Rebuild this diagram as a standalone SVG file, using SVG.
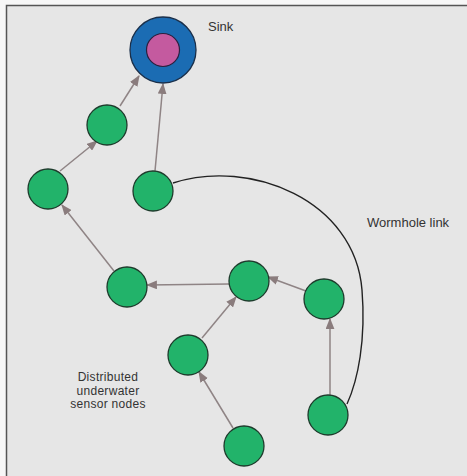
<svg xmlns="http://www.w3.org/2000/svg" width="467" height="476" viewBox="0 0 467 476">
<defs>
<marker id="arr" viewBox="0 0 10 8" refX="9" refY="4" markerWidth="11" markerHeight="9" markerUnits="userSpaceOnUse" orient="auto">
<path d="M0,0 L10,4 L0,8 Z" fill="#8a7c7d"/>
</marker>
<style>
.n{fill:#22b36a;stroke:#1e3b2c;stroke-width:1.3}
.e{stroke:#8f8485;stroke-width:1.5;fill:none;marker-end:url(#arr)}
.t{font-family:"Liberation Sans",Arial,sans-serif;font-size:13px;fill:#333}
.s{font-size:12px;letter-spacing:0.3px}
</style>
</defs>
<rect x="0" y="0" width="467" height="476" fill="#f7f7f7"/>
<rect x="6.5" y="5.5" width="470" height="480" fill="#e6e6e6" stroke="#555" stroke-width="1.5"/>
<g id="connectors">
<line class="e" x1="120" y1="106" x2="139" y2="76"/>
<line class="e" x1="60" y1="171" x2="97" y2="141"/>
<line class="e" x1="155" y1="171" x2="163" y2="84"/>
<line class="e" x1="114" y1="271" x2="62" y2="205"/>
<line class="e" x1="229" y1="284" x2="147" y2="285"/>
<line class="e" x1="202" y1="338" x2="236" y2="297"/>
<line class="e" x1="233" y1="428" x2="199" y2="372"/>
<line class="e" x1="306" y1="291" x2="268" y2="277"/>
<line class="e" x1="330" y1="396" x2="330" y2="319"/>
<path d="M173,183 C250,158 355,200 362,290 C366,340 358,380 347,404" fill="none" stroke="#222" stroke-width="1.4"/>
</g>
<g id="sink">
<circle cx="163" cy="50" r="33" fill="#1b6cb3" stroke="#1a2f4a" stroke-width="1.3"/>
<circle cx="163" cy="50" r="16.5" fill="#c45a9f" stroke="#2a2040" stroke-width="1.2"/>
</g>
<g id="n1"><circle class="n" cx="107" cy="125" r="20"/></g>
<g id="n2"><circle class="n" cx="48" cy="189" r="20"/></g>
<g id="n3"><circle class="n" cx="153" cy="191" r="20"/></g>
<g id="n4"><circle class="n" cx="127" cy="287" r="20"/></g>
<g id="n5"><circle class="n" cx="249" cy="281" r="20"/></g>
<g id="n6"><circle class="n" cx="324" cy="299" r="20"/></g>
<g id="n7"><circle class="n" cx="188" cy="355" r="20"/></g>
<g id="n8"><circle class="n" cx="328" cy="415" r="20"/></g>
<g id="n9"><circle class="n" cx="244" cy="446" r="20"/></g>
<g id="labels">
<text class="t" x="208" y="31">Sink</text>
<text class="t" x="367" y="227">Wormhole link</text>
<text class="t s" x="108" y="381" text-anchor="middle">Distributed</text>
<text class="t s" x="108" y="394.5" text-anchor="middle">underwater</text>
<text class="t s" x="108" y="408" text-anchor="middle">sensor nodes</text>
</g>
</svg>
